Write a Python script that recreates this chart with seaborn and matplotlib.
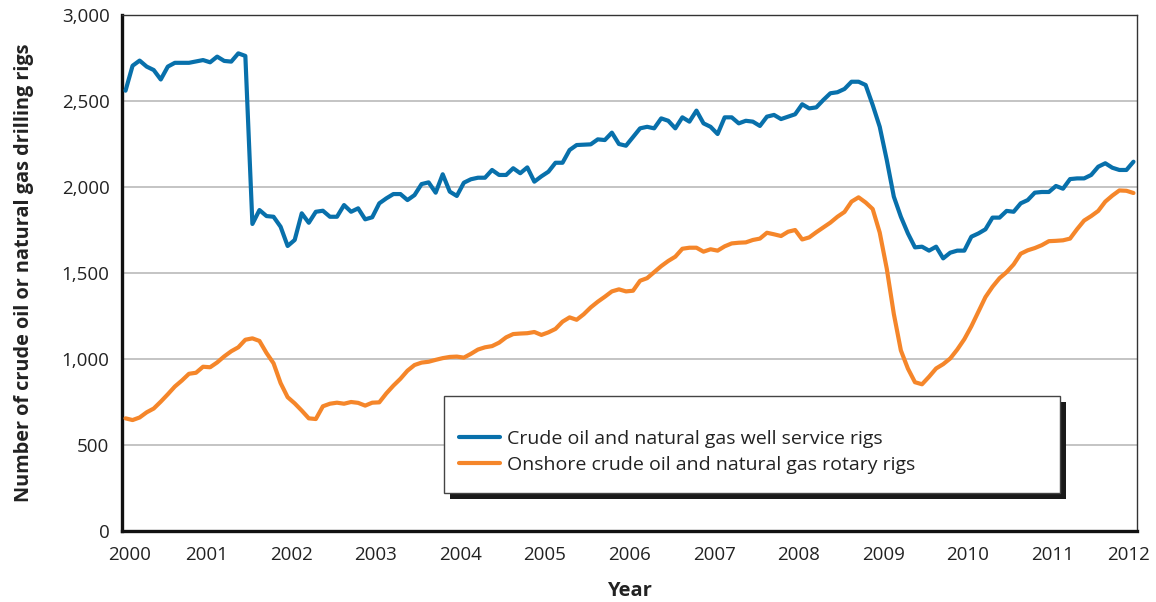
import numpy as np
import pandas as pd
import matplotlib
matplotlib.use("Agg")
import matplotlib.pyplot as plt
import matplotlib.transforms as mtransforms
from matplotlib.patches import Rectangle
from matplotlib.lines import Line2D
from matplotlib.ticker import MultipleLocator, FuncFormatter
import seaborn as sns

# monthly values, Jan 2000 - Dec 2011
service_rigs = [
    2560, 2705, 2735, 2700, 2680, 2625, 2700, 2722, 2722, 2722, 2730, 2738,
    2725, 2758, 2733, 2729, 2777, 2762, 1785, 1866, 1831, 1827, 1769, 1657,
    1692, 1847, 1792, 1856, 1862, 1827, 1827, 1895, 1856, 1876, 1812, 1824,
    1905, 1934, 1959, 1959, 1924, 1953, 2017, 2027, 1967, 2074, 1973, 1948,
    2025, 2045, 2054, 2054, 2099, 2070, 2070, 2109, 2080, 2114, 2031, 2062,
    2089, 2141, 2141, 2215, 2244, 2246, 2248, 2277, 2273, 2316, 2250, 2240,
    2290, 2341, 2350, 2341, 2399, 2385, 2341, 2405, 2380, 2444, 2370, 2350,
    2308, 2405, 2405, 2370, 2385, 2380, 2355, 2409, 2419, 2395, 2409, 2423,
    2481, 2457, 2463, 2506, 2545, 2551, 2570, 2612, 2612, 2593, 2477, 2350,
    2157, 1944, 1827, 1730, 1649, 1653, 1630, 1653, 1585, 1618, 1630, 1630,
    1711, 1730, 1754, 1822, 1822, 1861, 1856, 1905, 1924, 1967, 1971, 1971,
    2006, 1990, 2046, 2050, 2050, 2070, 2118, 2138, 2112, 2099, 2099, 2147,
]
rotary_rigs = [
    655, 645, 660, 690, 712, 752, 795, 840, 875, 914, 920, 955,
    952, 980, 1015, 1045, 1068, 1112, 1120, 1105, 1035, 975, 860, 778,
    742, 700, 655, 651, 725, 740, 746, 740, 750, 745, 729, 746,
    748, 800, 845, 885, 932, 965, 979, 984, 995, 1005, 1012, 1014,
    1008, 1030, 1055, 1068, 1075, 1095, 1126, 1145, 1148, 1150, 1157, 1140,
    1155, 1175, 1217, 1242, 1228, 1260, 1300, 1333, 1362, 1393, 1405, 1393,
    1397, 1455, 1470, 1505, 1540, 1570, 1595, 1641, 1647, 1647, 1624, 1638,
    1630, 1655, 1672, 1676, 1678, 1692, 1700, 1734, 1725, 1715, 1740, 1750,
    1695, 1707, 1737, 1765, 1793, 1827, 1855, 1915, 1940, 1910, 1872, 1735,
    1525, 1262, 1050, 944, 865, 853, 897, 945, 970, 1003, 1055, 1115,
    1190, 1275, 1360, 1420, 1470, 1505, 1550, 1612, 1632, 1645, 1662, 1685,
    1687, 1690, 1700, 1755, 1805, 1831, 1861, 1915, 1950, 1980, 1978, 1965,
]
series_names = ["Crude oil and natural gas well service rigs",
                "Onshore crude oil and natural gas rotary rigs"]
year_ticks = list(range(2000, 2013))

months = np.arange(len(service_rigs))
years = 2000 + (months + 0.5) / 12

df = pd.concat([
    pd.DataFrame({"Year": years, "Rigs": service_rigs, "Series": series_names[0]}),
    pd.DataFrame({"Year": years, "Rigs": rotary_rigs, "Series": series_names[1]}),
])

sns.set_style("white")
plt.rcParams["font.family"] = ["Open Sans", "DejaVu Sans"]

blue = "#0870ab"
orange = "#f5862a"
W, H = 1156, 602

fig = plt.figure(figsize=(W / 100, H / 100), dpi=100)
ax = fig.add_axes([122 / W, (H - 531) / H, (1137 - 122) / W, (531 - 15) / H])

sns.lineplot(data=df, x="Year", y="Rigs", hue="Series", palette=[blue, orange],
             linewidth=3.0, ax=ax, legend=False, zorder=3)

ax.set_xlim(2000, 2012)
ax.set_ylim(0, 3000)
ax.set_xticks(year_ticks)
ax.set_xticklabels([str(y) for y in year_ticks])
ax.xaxis.set_minor_locator(MultipleLocator(0.25))
ax.yaxis.set_major_locator(MultipleLocator(500))
ax.yaxis.set_major_formatter(FuncFormatter(lambda v, p: f"{int(v):,}"))

ax.tick_params(axis="x", which="major", direction="in", length=14, width=1.0,
               color="#222222", labelsize=13.5, pad=11, labelcolor="#222222")
ax.tick_params(axis="x", which="minor", direction="in", length=8.5, width=1.0,
               color="#222222")
ax.tick_params(axis="y", length=0, labelsize=13.5, pad=9, labelcolor="#222222")

ax.grid(axis="y", color="#b4b4b4", linewidth=1.1, zorder=0)
ax.set_axisbelow(True)

for side in ["left", "bottom"]:
    ax.spines[side].set_linewidth(2.4)
    ax.spines[side].set_color("#111111")
for side in ["top", "right"]:
    ax.spines[side].set_linewidth(1.0)
    ax.spines[side].set_color("#333333")

ax.set_xlabel("Year", fontsize=14.5, fontweight="bold", color="#222222", labelpad=12)
ax.set_ylabel("Number of crude oil or natural gas drilling rigs", fontsize=14.3,
              fontweight="bold", color="#222222", labelpad=20)

# nudge end year labels inwards like the original
labels = ax.get_xticklabels()
labels[0].set_transform(labels[0].get_transform()
                        + mtransforms.ScaledTranslation(8 / 100, 0, fig.dpi_scale_trans))
labels[-1].set_transform(labels[-1].get_transform()
                         + mtransforms.ScaledTranslation(-9 / 100, 0, fig.dpi_scale_trans))

# legend box with solid drop shadow
fig.patches.append(Rectangle((450 / W, (H - 499) / H), 616 / W, 97 / H,
                             transform=fig.transFigure, facecolor="#1a1a1a",
                             edgecolor="none", zorder=5))
fig.patches.append(Rectangle((444 / W, (H - 493) / H), 616 / W, 97 / H,
                             transform=fig.transFigure, facecolor="white",
                             edgecolor="#444444", linewidth=1.0, zorder=6))

handles = [Line2D([], [], color=blue, linewidth=3.0),
           Line2D([], [], color=orange, linewidth=3.0)]
leg = fig.legend(handles, series_names, loc="upper left",
                 bbox_to_anchor=(459 / W, (H - 430) / H), frameon=False,
                 fontsize=14, handlelength=2.1, handletextpad=0.36,
                 labelspacing=0.42, borderpad=0, borderaxespad=0)
leg.set_zorder(7)
for t in leg.get_texts():
    t.set_color("#222222")

fig.savefig("out.png", dpi=100)
